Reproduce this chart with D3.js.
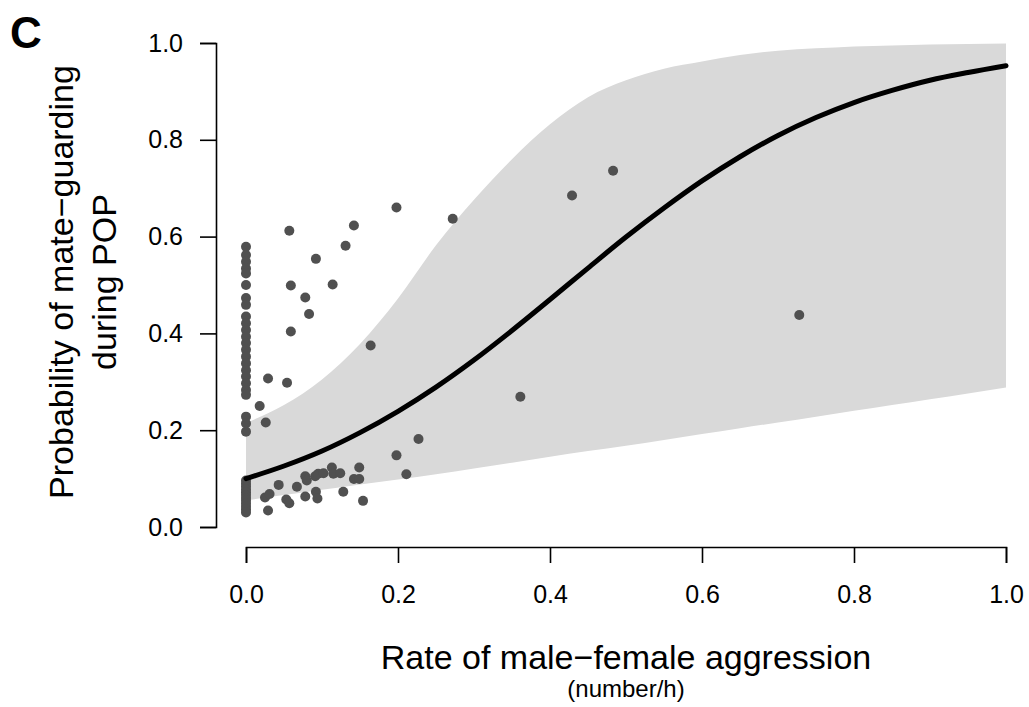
<!DOCTYPE html>
<html>
<head>
<meta charset="utf-8">
<script src="https://cdn.jsdelivr.net/npm/d3@7"></script>
<style>
  html, body { margin: 0; padding: 0; background: #ffffff; }
  svg { display: block; font-family: "Liberation Sans", Arial, Helvetica, sans-serif; }
</style>
</head>
<body>
<svg id="chart" width="1029" height="707"></svg>
<script>
// Observed individuals: aggression rate (number/h) and mate-guarding probability
const pointsX = [
  // rate = 0
  0, 0, 0, 0, 0, 0, 0, 0, 0, 0, 0, 0, 0, 0, 0, 0, 0, 0, 0, 0, 0, 0, 0, 0,
  0, 0, 0, 0, 0, 0, 0, 0, 0, 0, 0, 0,
  // rate > 0
  0.018, 0.026, 0.029, 0.054,
  0.057, 0.142, 0.198, 0.272, 0.131, 0.092, 0.059, 0.114, 0.078, 0.083, 0.059, 0.164,
  0.361, 0.429, 0.483, 0.728,
  0.029, 0.025, 0.031, 0.043, 0.053, 0.057, 0.067, 0.078, 0.078, 0.080, 0.091, 0.095,
  0.102, 0.113, 0.115, 0.124, 0.092, 0.094, 0.128, 0.149, 0.142, 0.149, 0.154,
  0.198, 0.211, 0.227
];
const pointsY = [
  0.579, 0.562, 0.548, 0.534, 0.524, 0.500, 0.473, 0.459, 0.435, 0.421, 0.407, 0.393,
  0.380, 0.366, 0.352, 0.338, 0.324, 0.311, 0.297, 0.283, 0.273, 0.228, 0.214, 0.197,
  0.096, 0.090, 0.084, 0.078, 0.072, 0.066, 0.060, 0.054, 0.048, 0.042, 0.036, 0.030,
  0.250, 0.216, 0.307, 0.298,
  0.612, 0.623, 0.660, 0.637, 0.581, 0.554, 0.499, 0.501, 0.474, 0.440, 0.404, 0.375,
  0.269, 0.685, 0.736, 0.438,
  0.034, 0.061, 0.068, 0.087, 0.057, 0.049, 0.083, 0.063, 0.105, 0.096, 0.105, 0.110,
  0.111, 0.123, 0.110, 0.111, 0.073, 0.059, 0.073, 0.123, 0.099, 0.099, 0.054,
  0.148, 0.109, 0.182
];

// Fitted logistic curve and its 95% confidence band
const fitX = [0, 0.05, 0.10, 0.15, 0.20, 0.25, 0.30, 0.35, 0.40, 0.45, 0.50,
              0.55, 0.60, 0.65, 0.70, 0.75, 0.80, 0.85, 0.90, 0.95, 1.00];
const fitY = [0.100, 0.126, 0.157, 0.195, 0.239, 0.289, 0.345, 0.406, 0.470, 0.535, 0.599,
              0.659, 0.715, 0.765, 0.809, 0.846, 0.877, 0.902, 0.923, 0.939, 0.953];
const bandUpper = [0.215, 0.252, 0.305, 0.378, 0.472, 0.582, 0.676, 0.760, 0.832, 0.888, 0.923,
                   0.947, 0.962, 0.975, 0.984, 0.989, 0.993, 0.995, 0.997, 0.998, 0.999];
const bandLower = [0.055, 0.066, 0.077, 0.088, 0.098, 0.109, 0.121, 0.133, 0.145, 0.157, 0.168,
                   0.180, 0.192, 0.204, 0.216, 0.228, 0.240, 0.252, 0.264, 0.276, 0.288];

const xTicks = [0, 0.2, 0.4, 0.6, 0.8, 1.0];
const yTicks = [0, 0.2, 0.4, 0.6, 0.8, 1.0];

const svg = d3.select("#chart");

const x = d3.scaleLinear().domain([0, 1]).range([246, 1006]);
const y = d3.scaleLinear().domain([0, 1]).range([527, 43]);

const fit = fitX.map((v, i) => ({ x: v, y: fitY[i], lo: bandLower[i], hi: bandUpper[i] }));

// confidence band
svg.append("path")
  .datum(fit)
  .attr("fill", "#d9d9d9")
  .attr("d", d3.area()
    .x(d => x(d.x))
    .y0(d => y(d.lo))
    .y1(d => y(d.hi))
    .curve(d3.curveMonotoneX));

// raw observations
const pts = pointsX.map((v, i) => ({ x: v, y: pointsY[i] }));
svg.append("g")
  .selectAll("circle")
  .data(pts)
  .join("circle")
  .attr("cx", d => x(d.x))
  .attr("cy", d => y(d.y))
  .attr("r", 5)
  .attr("fill", "#505050");

// fitted curve
svg.append("path")
  .datum(fit)
  .attr("fill", "none")
  .attr("stroke", "#000")
  .attr("stroke-width", 5)
  .attr("stroke-linecap", "round")
  .attr("d", d3.line()
    .x(d => x(d.x))
    .y(d => y(d.y))
    .curve(d3.curveMonotoneX));

// axes (R-style, detached from the plotting region)
const fmt = d3.format(".1f");
const xAxis = svg.append("g")
  .attr("transform", "translate(0,547)")
  .call(d3.axisBottom(x).tickValues(xTicks).tickFormat(fmt).tickSize(16).tickPadding(22));
const yAxis = svg.append("g")
  .attr("transform", "translate(216,0)")
  .call(d3.axisLeft(y).tickValues(yTicks).tickFormat(fmt).tickSize(16).tickPadding(17));

[xAxis, yAxis].forEach(g => {
  g.select(".domain").attr("stroke", "#000").attr("stroke-width", 1.6);
  g.selectAll(".tick line").attr("stroke", "#000").attr("stroke-width", 1.6);
  g.selectAll(".tick text")
    .attr("fill", "#000")
    .style("font-family", "'Liberation Sans', Arial, sans-serif")
    .style("font-size", "25px");
});

// axis titles
svg.append("text")
  .attr("x", 626).attr("y", 669)
  .attr("text-anchor", "middle")
  .style("font-size", "34px")
  .text("Rate of male\u2212female aggression");
svg.append("text")
  .attr("x", 626).attr("y", 697)
  .attr("text-anchor", "middle")
  .style("font-size", "24px")
  .text("(number/h)");

const yTitle = svg.append("g")
  .attr("transform", "translate(0,282) rotate(-90)");
yTitle.append("text")
  .attr("x", 0).attr("y", 73)
  .attr("text-anchor", "middle")
  .style("font-size", "34px")
  .text("Probability of mate\u2212guarding");
yTitle.append("text")
  .attr("x", 0).attr("y", 116)
  .attr("text-anchor", "middle")
  .style("font-size", "34px")
  .text("during POP");

// panel letter
svg.append("text")
  .attr("x", 10).attr("y", 48)
  .style("font-size", "44px")
  .style("font-weight", "bold")
  .text("C");
</script>
</body>
</html>
